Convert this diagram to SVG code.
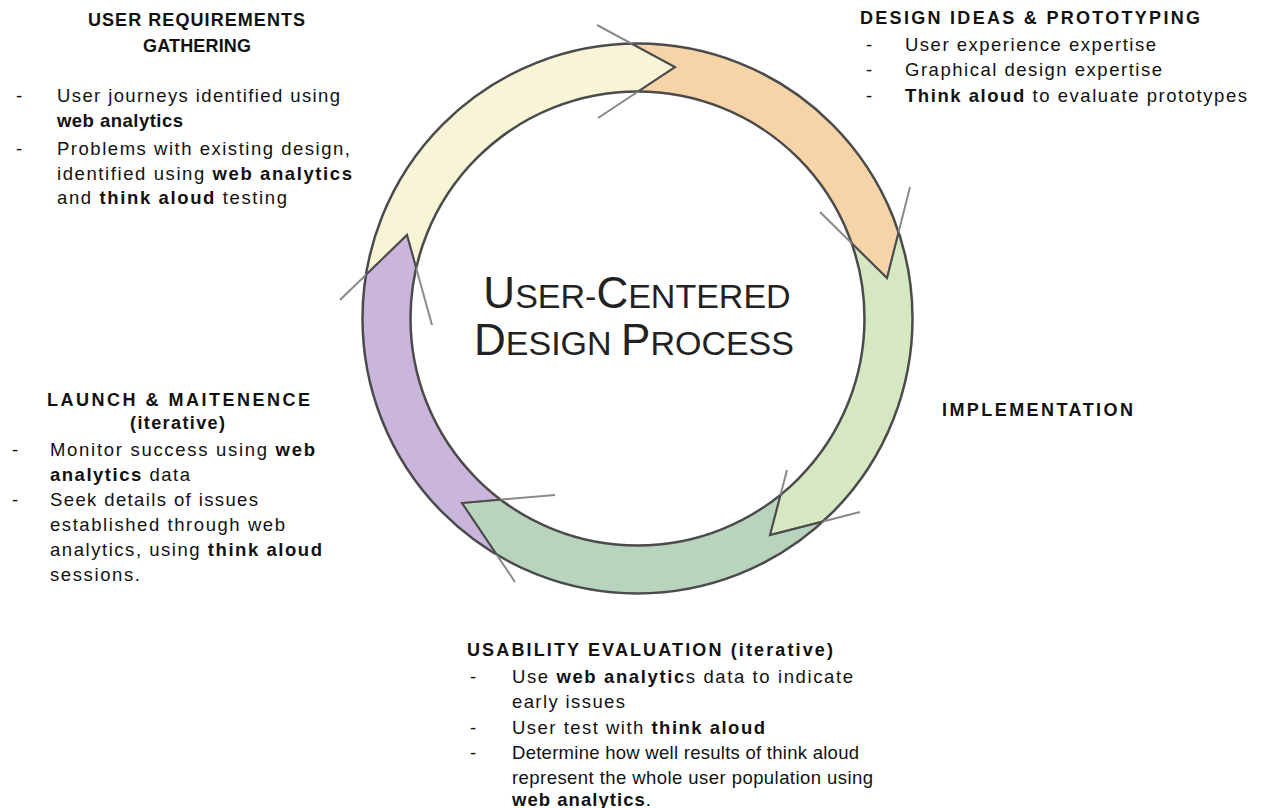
<svg xmlns="http://www.w3.org/2000/svg" width="1264" height="808" viewBox="0 0 1264 808">
  <style>
    text { font-family: "Liberation Sans", Arial, sans-serif; fill: #111; }
    .h { font-size: 18px; font-weight: bold; }
    .t { font-size: 18.5px; }
    .b { font-weight: bold; }
    .title { font-size: 34px; fill: #222; }
    .cap { font-size: 44px; }
    .ring { fill: none; stroke: #4b4b4b; stroke-width: 2.5; }
    .cut { fill: none; stroke: #8a8a8a; stroke-width: 2; stroke-linejoin: miter; }
    .cut-in { fill: none; stroke: #4b4b4b; stroke-width: 2; stroke-linejoin: miter; }
  </style>
  <defs>
    <clipPath id="band">
      <path clip-rule="evenodd" d="M362.5,318.5 a275,275 0 1,0 550,0 a275,275 0 1,0 -550,0 Z M410.5,318.5 a227,227 0 1,0 454,0 a227,227 0 1,0 -454,0 Z"/>
    </clipPath>
  </defs>
  <rect width="1264" height="808" fill="#ffffff"/>

  <!-- cycle ring: five arrow segments clipped to the band -->
  <g id="cycle-ring">
    <g clip-path="url(#band)">
      <polygon id="seg-requirements" fill="#f7f5d6" points="432,325 407,235 340,300 218.3,292.1 273.8,108.5 396.6,-25.6 579.8,-97.5 597,25 675,67 598,118 637.5,318.5"/>
      <polygon id="seg-design" fill="#f6d4a8" points="598,118 675,67 597,25 579.8,-97.5 781.1,-76.2 934.5,21.5 1015.6,135.7 910,187 887,278 820,212 637.5,318.5"/>
      <polygon id="seg-implementation" fill="#d6e8c1" points="820,212 887,278 910,187 1015.6,135.7 1057.5,318.5 1018.2,496 954.5,594.1 860,512 770,535 787,470 637.5,318.5"/>
      <polygon id="seg-usability" fill="#b9d4bd" points="787,470 770,535 860,512 954.5,594.1 815,699.1 637.5,738.5 460.7,699.4 515,582 462,503 555,495 637.5,318.5"/>
      <polygon id="seg-launch" fill="#cab5dc" points="555,495 462,503 515,582 460.7,699.4 315.8,588.5 242.8,462.1 218.3,292.1 340,300 407,235 432,325 637.5,318.5"/>
    </g>
    <circle class="ring" cx="637.5" cy="318.5" r="275"/>
    <circle class="ring" cx="637.5" cy="318.5" r="227"/>
  </g>

  <!-- arrowhead cut lines between the segments -->
  <g id="connectors">
    <polyline class="cut" points="597,25 675,67 598,118"/>
    <polyline class="cut" points="910,187 887,278 820,212"/>
    <polyline class="cut" points="860,512 770,535 787,470"/>
    <polyline class="cut" points="515,582 462,503 555,495"/>
    <polyline class="cut" points="340,300 407,235 432,325"/>
    <g clip-path="url(#band)">
      <polyline class="cut-in" points="597,25 675,67 598,118"/>
      <polyline class="cut-in" points="910,187 887,278 820,212"/>
      <polyline class="cut-in" points="860,512 770,535 787,470"/>
      <polyline class="cut-in" points="515,582 462,503 555,495"/>
      <polyline class="cut-in" points="340,300 407,235 432,325"/>
    </g>
  </g>

  <!-- centre title in small caps -->
  <g id="title">
    <text class="title" x="637" y="308" text-anchor="middle"><tspan class="cap">U</tspan>SER-<tspan class="cap">C</tspan>ENTERED</text>
    <text class="title" x="634" y="355" text-anchor="middle"><tspan class="cap">D</tspan>ESIGN <tspan class="cap">P</tspan>ROCESS</text>
  </g>

  <!-- stage: user requirements gathering -->
  <g id="node-requirements">
    <text class="h" x="88" y="26" textLength="217" lengthAdjust="spacing">USER REQUIREMENTS</text>
    <text class="h" x="143" y="52" textLength="108" lengthAdjust="spacing">GATHERING</text>
    <text class="t" x="16" y="102">-</text>
    <text class="t" x="57" y="102" textLength="283" lengthAdjust="spacing">User journeys identified using</text>
    <text class="t b" x="57" y="127" textLength="126" lengthAdjust="spacing">web analytics</text>
    <text class="t" x="16" y="155">-</text>
    <text class="t" x="57" y="155" textLength="293" lengthAdjust="spacing">Problems with existing design,</text>
    <text class="t" x="57" y="180" textLength="295" lengthAdjust="spacing">identified using <tspan class="b">web analytics</tspan></text>
    <text class="t" x="57" y="204" textLength="230" lengthAdjust="spacing">and <tspan class="b">think aloud</tspan> testing</text>
  </g>

  <!-- stage: design ideas and prototyping -->
  <g id="node-design">
    <text class="h" x="860" y="24" textLength="340" lengthAdjust="spacing">DESIGN IDEAS &amp; PROTOTYPING</text>
    <text class="t" x="866" y="51">-</text>
    <text class="t" x="905" y="51" textLength="251" lengthAdjust="spacing">User experience expertise</text>
    <text class="t" x="866" y="76">-</text>
    <text class="t" x="905" y="76" textLength="257" lengthAdjust="spacing">Graphical design expertise</text>
    <text class="t" x="866" y="102">-</text>
    <text class="t" x="905" y="102" textLength="342" lengthAdjust="spacing"><tspan class="b">Think aloud</tspan> to evaluate prototypes</text>
  </g>

  <!-- stage: implementation -->
  <g id="node-implementation">
    <text class="h" x="942" y="416" textLength="191" lengthAdjust="spacing">IMPLEMENTATION</text>
  </g>

  <!-- stage: usability evaluation -->
  <g id="node-usability">
    <text class="h" x="467" y="656" textLength="366" lengthAdjust="spacing">USABILITY EVALUATION (iterative)</text>
    <text class="t" x="470" y="683">-</text>
    <text class="t" x="512" y="683" textLength="341" lengthAdjust="spacing">Use <tspan class="b">web analytic</tspan>s data to indicate</text>
    <text class="t" x="512" y="708" textLength="113" lengthAdjust="spacing">early issues</text>
    <text class="t" x="470" y="734">-</text>
    <text class="t" x="512" y="734" textLength="253" lengthAdjust="spacing">User test with <tspan class="b">think aloud</tspan></text>
    <text class="t" x="470" y="759">-</text>
    <text class="t" x="512" y="759" textLength="347" lengthAdjust="spacing">Determine how well results of think aloud</text>
    <text class="t" x="512" y="784" textLength="361" lengthAdjust="spacing">represent the whole user population using</text>
    <text class="t" x="512" y="806" textLength="139" lengthAdjust="spacing"><tspan class="b">web analytics</tspan>.</text>
  </g>

  <!-- stage: launch and maintenance -->
  <g id="node-launch">
    <text class="h" x="47" y="406" textLength="263" lengthAdjust="spacing">LAUNCH &amp; MAITENENCE</text>
    <text class="h" x="130" y="429" textLength="95" lengthAdjust="spacing">(iterative)</text>
    <text class="t" x="12" y="456">-</text>
    <text class="t" x="50" y="456" textLength="265" lengthAdjust="spacing">Monitor success using <tspan class="b">web</tspan></text>
    <text class="t" x="50" y="481" textLength="140" lengthAdjust="spacing"><tspan class="b">analytics</tspan> data</text>
    <text class="t" x="12" y="506">-</text>
    <text class="t" x="50" y="506" textLength="208" lengthAdjust="spacing">Seek details of issues</text>
    <text class="t" x="50" y="531" textLength="235" lengthAdjust="spacing">established through web</text>
    <text class="t" x="50" y="556" textLength="272" lengthAdjust="spacing">analytics, using <tspan class="b">think aloud</tspan></text>
    <text class="t" x="50" y="581" textLength="90" lengthAdjust="spacing">sessions.</text>
  </g>
</svg>
